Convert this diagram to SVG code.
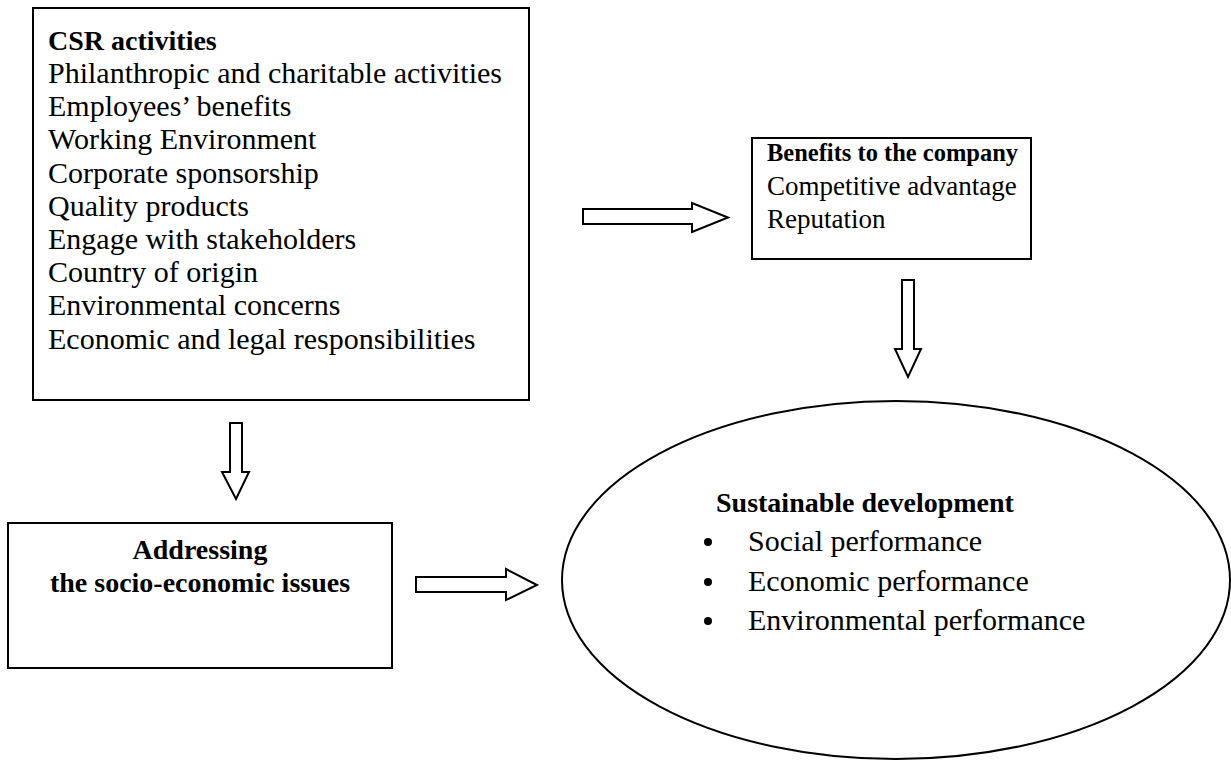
<svg xmlns="http://www.w3.org/2000/svg" width="1231" height="761" viewBox="0 0 1231 761">
  <style>
    .box { fill: #fff; stroke: #000; stroke-width: 2; }
    .arrow { fill: #fff; stroke: #000; stroke-width: 2; stroke-linejoin: miter; }
    text { font-family: "Liberation Serif", "Times New Roman", serif; font-size: 30px; fill: #000; }
    .b { font-weight: bold; font-size: 28px; }
    .c { text-anchor: middle; }
    .s { font-size: 27px; }
    .sb { font-weight: bold; font-size: 24.5px; }
  </style>
  <rect width="1231" height="761" fill="#fff"/>

  <g id="csr-activities">
    <rect class="box" x="33" y="8" width="496" height="392"/>
    <text x="48" y="50" class="b">CSR activities</text>
    <text x="48" y="83">Philanthropic and charitable activities</text>
    <text x="48" y="116">Employees’ benefits</text>
    <text x="48" y="149">Working Environment</text>
    <text x="48" y="183">Corporate sponsorship</text>
    <text x="48" y="216">Quality products</text>
    <text x="48" y="249">Engage with stakeholders</text>
    <text x="48" y="282">Country of origin</text>
    <text x="48" y="315">Environmental concerns</text>
    <text x="48" y="349">Economic and legal responsibilities</text>
  </g>

  <g id="benefits">
    <rect class="box" x="752" y="138" width="279" height="121"/>
    <text x="767" y="161" class="sb">Benefits to the company</text>
    <text x="767" y="195" class="s">Competitive advantage</text>
    <text x="767" y="228" class="s">Reputation</text>
  </g>

  <g id="socio-economic">
    <rect class="box" x="8" y="523" width="384" height="145"/>
    <text x="200" y="559" class="b c">Addressing</text>
    <text x="200" y="592" class="b c">the socio-economic issues</text>
  </g>

  <g id="sustainable-development">
    <ellipse class="box" cx="896" cy="580" rx="334" ry="179"/>
    <text x="716" y="512" class="b">Sustainable development</text>
    <circle cx="708" cy="542" r="4"/>
    <circle cx="708" cy="582" r="4"/>
    <circle cx="708" cy="621" r="4"/>
    <text x="748" y="551">Social performance</text>
    <text x="748" y="591">Economic performance</text>
    <text x="748" y="630">Environmental performance</text>
  </g>

  <g id="connectors">
    <!-- block arrow: CSR activities to benefits -->
    <path class="arrow" d="M583,209 H692 V203 L728,217.5 L692,232 V224 H583 Z"/>
    <!-- block arrow: benefits down to sustainable development -->
    <path class="arrow" d="M902,280 H914 V349 H921 L908,377 L895,349 H902 Z"/>
    <!-- block arrow: CSR activities down to socio-economic issues -->
    <path class="arrow" d="M230,423 H242 V472 H249 L236,499 L222,472 H230 Z"/>
    <!-- block arrow: socio-economic issues to sustainable development -->
    <path class="arrow" d="M416,577 H506 V569 L537,585 L506,600 V592 H416 Z"/>
  </g>
</svg>
